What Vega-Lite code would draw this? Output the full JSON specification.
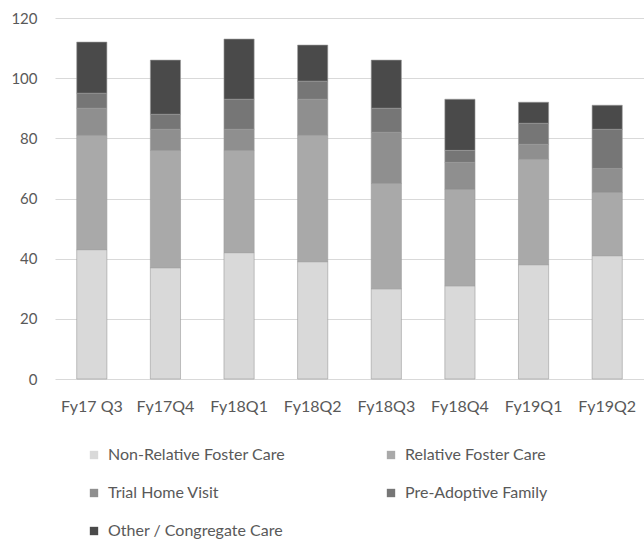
{
  "$schema": "https://vega.github.io/schema/vega-lite/v6.json",
  "width": 589,
  "height": 361,
  "autosize": {"type": "none"},
  "padding": {"left": 55, "top": 18, "right": 0, "bottom": 167},
  "background": "white",
  "config": {"view": {"stroke": null}, "font": "Lato"},
  "data": {"values": [
    {"q": "Fy17 Q3", "cat": "Non-Relative Foster Care", "o": 1, "v": 43},
    {"q": "Fy17 Q3", "cat": "Relative Foster Care", "o": 2, "v": 38},
    {"q": "Fy17 Q3", "cat": "Trial Home Visit", "o": 3, "v": 9},
    {"q": "Fy17 Q3", "cat": "Pre-Adoptive Family", "o": 4, "v": 5},
    {"q": "Fy17 Q3", "cat": "Other / Congregate Care", "o": 5, "v": 17},
    {"q": "Fy17Q4", "cat": "Non-Relative Foster Care", "o": 1, "v": 37},
    {"q": "Fy17Q4", "cat": "Relative Foster Care", "o": 2, "v": 39},
    {"q": "Fy17Q4", "cat": "Trial Home Visit", "o": 3, "v": 7},
    {"q": "Fy17Q4", "cat": "Pre-Adoptive Family", "o": 4, "v": 5},
    {"q": "Fy17Q4", "cat": "Other / Congregate Care", "o": 5, "v": 18},
    {"q": "Fy18Q1", "cat": "Non-Relative Foster Care", "o": 1, "v": 42},
    {"q": "Fy18Q1", "cat": "Relative Foster Care", "o": 2, "v": 34},
    {"q": "Fy18Q1", "cat": "Trial Home Visit", "o": 3, "v": 7},
    {"q": "Fy18Q1", "cat": "Pre-Adoptive Family", "o": 4, "v": 10},
    {"q": "Fy18Q1", "cat": "Other / Congregate Care", "o": 5, "v": 20},
    {"q": "Fy18Q2", "cat": "Non-Relative Foster Care", "o": 1, "v": 39},
    {"q": "Fy18Q2", "cat": "Relative Foster Care", "o": 2, "v": 42},
    {"q": "Fy18Q2", "cat": "Trial Home Visit", "o": 3, "v": 12},
    {"q": "Fy18Q2", "cat": "Pre-Adoptive Family", "o": 4, "v": 6},
    {"q": "Fy18Q2", "cat": "Other / Congregate Care", "o": 5, "v": 12},
    {"q": "Fy18Q3", "cat": "Non-Relative Foster Care", "o": 1, "v": 30},
    {"q": "Fy18Q3", "cat": "Relative Foster Care", "o": 2, "v": 35},
    {"q": "Fy18Q3", "cat": "Trial Home Visit", "o": 3, "v": 17},
    {"q": "Fy18Q3", "cat": "Pre-Adoptive Family", "o": 4, "v": 8},
    {"q": "Fy18Q3", "cat": "Other / Congregate Care", "o": 5, "v": 16},
    {"q": "Fy18Q4", "cat": "Non-Relative Foster Care", "o": 1, "v": 31},
    {"q": "Fy18Q4", "cat": "Relative Foster Care", "o": 2, "v": 32},
    {"q": "Fy18Q4", "cat": "Trial Home Visit", "o": 3, "v": 9},
    {"q": "Fy18Q4", "cat": "Pre-Adoptive Family", "o": 4, "v": 4},
    {"q": "Fy18Q4", "cat": "Other / Congregate Care", "o": 5, "v": 17},
    {"q": "Fy19Q1", "cat": "Non-Relative Foster Care", "o": 1, "v": 38},
    {"q": "Fy19Q1", "cat": "Relative Foster Care", "o": 2, "v": 35},
    {"q": "Fy19Q1", "cat": "Trial Home Visit", "o": 3, "v": 5},
    {"q": "Fy19Q1", "cat": "Pre-Adoptive Family", "o": 4, "v": 7},
    {"q": "Fy19Q1", "cat": "Other / Congregate Care", "o": 5, "v": 7},
    {"q": "Fy19Q2", "cat": "Non-Relative Foster Care", "o": 1, "v": 41},
    {"q": "Fy19Q2", "cat": "Relative Foster Care", "o": 2, "v": 21},
    {"q": "Fy19Q2", "cat": "Trial Home Visit", "o": 3, "v": 8},
    {"q": "Fy19Q2", "cat": "Pre-Adoptive Family", "o": 4, "v": 13},
    {"q": "Fy19Q2", "cat": "Other / Congregate Care", "o": 5, "v": 8}
  ]},
  "mark": {"type": "bar", "stroke": "#9a9a9a", "strokeWidth": 0.6},
  "encoding": {
    "x": {
      "field": "q", "type": "nominal", "sort": null,
      "scale": {"paddingInner": 0.59, "paddingOuter": 0.295},
      "axis": {"title": null, "labelAngle": 0, "ticks": false, "domain": false,
        "labelFontSize": 16, "labelColor": "#595959", "labelPadding": 19}
    },
    "y": {
      "field": "v", "type": "quantitative", "stack": "zero",
      "scale": {"domain": [0, 120]},
      "axis": {"title": null, "values": [0, 20, 40, 60, 80, 100, 120], "ticks": false, "domain": false,
        "gridColor": "#d9d9d9", "gridWidth": 1, "labelFontSize": 15, "labelColor": "#595959", "labelPadding": 18}
    },
    "color": {
      "field": "cat", "type": "nominal",
      "scale": {
        "domain": ["Non-Relative Foster Care", "Relative Foster Care", "Trial Home Visit", "Pre-Adoptive Family", "Other / Congregate Care"],
        "range": ["#d9d9d9", "#a9a9a9", "#8f8f8f", "#767676", "#4a4a4a"]
      },
      "legend": {
        "title": null, "orient": "none", "legendX": 31, "legendY": 429,
        "direction": "horizontal", "columns": 2, "columnPadding": 98, "rowPadding": 22,
        "symbolType": "square", "symbolSize": 70, "symbolStrokeWidth": 0,
        "labelFontSize": 16, "labelColor": "#595959", "labelOffset": 6, "labelLimit": 300
      }
    },
    "order": {"field": "o", "type": "quantitative"}
  }
}
